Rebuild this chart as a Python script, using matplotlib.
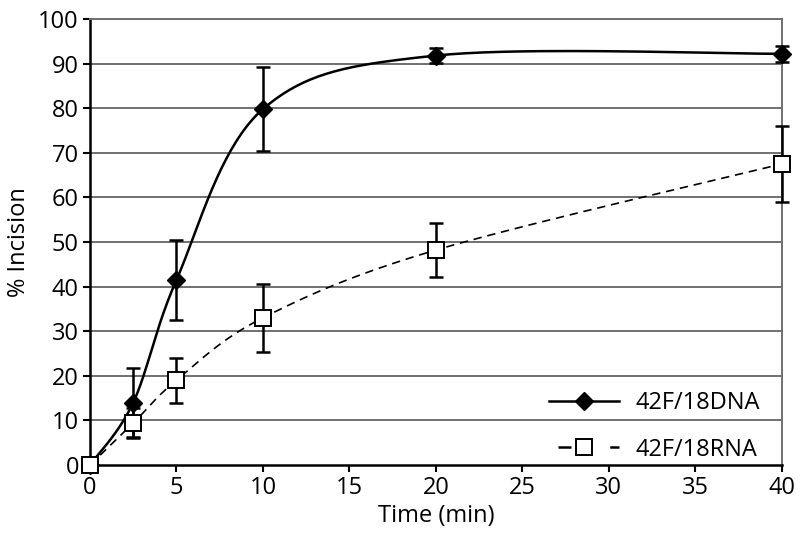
import numpy as np
import matplotlib
matplotlib.use("Agg")
import matplotlib.pyplot as plt
from matplotlib.lines import Line2D

plt.rcParams['font.family'] = ['Open Sans', 'DejaVu Sans']

# Data
time = [0, 2.5, 5, 10, 20, 40]
dna = [0, 14.0, 41.5, 79.8, 91.8, 92.2]
dna_err = [0, 7.8, 9.0, 9.5, 1.7, 1.8]
rna = [0, 9.4, 19.0, 33.0, 48.2, 67.5]
rna_err = [0, 3.3, 5.0, 7.6, 6.0, 8.5]

xticks = [0, 5, 10, 15, 20, 25, 30, 35, 40]
yticks = [0, 10, 20, 30, 40, 50, 60, 70, 80, 90, 100]


def smooth(x, y, n=40):
    # Excel style smoothed line: cubic bezier with control points from neighbours
    x = np.asarray(x, float)
    y = np.asarray(y, float)
    pts = np.column_stack([x, y])
    out = []
    for i in range(len(pts) - 1):
        p0 = pts[i - 1] if i > 0 else pts[i]
        p1 = pts[i]
        p2 = pts[i + 1]
        p3 = pts[i + 2] if i + 2 < len(pts) else pts[i + 1]
        c1 = p1 + (p2 - p0) / 6
        c2 = p2 - (p3 - p1) / 6
        t = np.linspace(0, 1, n)[:, None]
        seg = ((1 - t) ** 3) * p1 + 3 * ((1 - t) ** 2) * t * c1 + 3 * (1 - t) * t ** 2 * c2 + t ** 3 * p2
        out.append(seg if i == 0 else seg[1:])
    out = np.vstack(out)
    return out[:, 0], out[:, 1]


fig = plt.figure(figsize=(8, 5.43), dpi=100)
ax = fig.add_axes([0.1125, 0.1436, 0.8646, 0.8214])

# gridlines
for v in yticks[1:]:
    ax.axhline(v, color='#707070', lw=1.4, zorder=1)

sx, sy = smooth(time, dna)
ax.plot(sx, sy, color='black', lw=1.8, zorder=3)
rx, ry = smooth(time, rna)
ax.plot(rx, ry, color='black', lw=1.2, ls=(0, (5, 3.5)), zorder=3)

for vals, errs in [(dna, dna_err), (rna, rna_err)]:
    eb = ax.errorbar(time[1:], vals[1:], yerr=errs[1:], fmt='none', ecolor='black',
                     elinewidth=1.8, capsize=5, capthick=1.8, zorder=4)
    for art in eb.lines[1] + eb.lines[2]:
        art.set_clip_on(False)

ax.plot(time, dna, ls='none', marker='D', ms=9, mfc='black', mec='black', zorder=5, clip_on=False)
ax.plot(time, rna, ls='none', marker='s', ms=11, mfc='white', mec='black', mew=1.4, zorder=6,
        clip_on=False)

ax.set_xlim(0, 40)
ax.set_ylim(0, 100)
ax.set_xticks(xticks)
ax.set_yticks(yticks)
ax.tick_params(axis='both', labelsize=17, direction='out', length=5, width=1.5, color='black')
ax.tick_params(axis='x', pad=3)
ax.tick_params(axis='y', pad=3)

for s in ['left', 'bottom']:
    ax.spines[s].set_color('black')
    ax.spines[s].set_linewidth(1.8)
for s in ['right', 'top']:
    ax.spines[s].set_color('#707070')
    ax.spines[s].set_linewidth(1.4)

ax.set_xlabel('Time (min)', fontsize=17, labelpad=3)
ax.set_ylabel('% Incision', fontsize=17, labelpad=5)

handles = [
    Line2D([], [], color='black', lw=1.8, marker='D', ms=9, mfc='black'),
    Line2D([], [], color='black', lw=1.8, ls=(17.1, (5.2, 15.5)), marker='s', ms=11, mfc='white', mew=1.4),
]
ax.legend(handles, ['42F/18DNA', '42F/18RNA'], loc='lower right', bbox_to_anchor=(1.0, -0.04),
          frameon=False, fontsize=17, handlelength=3.0, handletextpad=0.7, labelspacing=0.95)

fig.savefig('out.png', dpi=100)
